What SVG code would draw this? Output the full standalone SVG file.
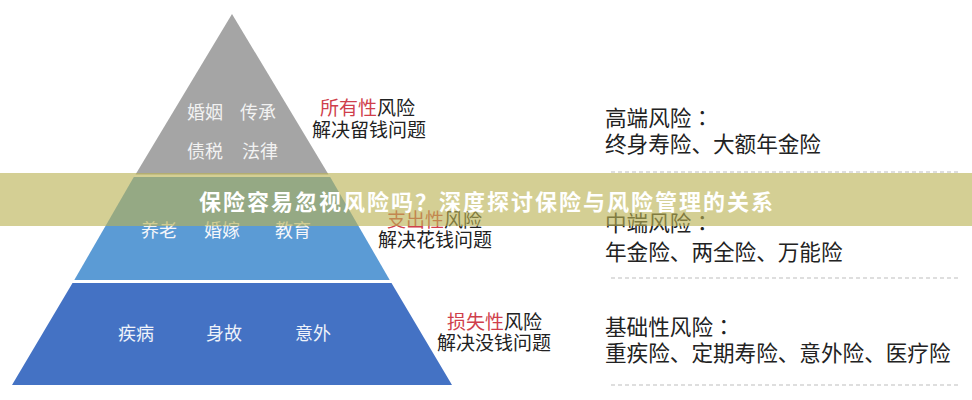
<svg xmlns="http://www.w3.org/2000/svg" width="972" height="400" viewBox="0 0 972 400">
<style>
text{font-family:"Noto Sans CJK SC","Noto Sans",sans-serif;}
.pt{font-size:18px;}
.lab{font-size:19px;fill:#222;}
.red{fill:#cf3f4c;}
.rc{font-size:21.6px;fill:#222;}
.colon{font-family:"Noto Sans CJK TC","Noto Sans",sans-serif;}
.sep{stroke:#bdbdbd;stroke-width:1.2;stroke-dasharray:4 3;fill:none;}
.title{font-size:22px;font-weight:bold;fill:#fff;letter-spacing:2px;}
</style>
<rect width="972" height="400" fill="#ffffff"/>
<g id="level-top">
<polygon points="232,14 328.5,174.5 135.5,174.5" fill="#a5a5a5"/>
<text class="pt" x="187" y="119" fill="#f2f2f2">婚姻</text>
<text class="pt" x="240" y="119" fill="#f2f2f2">传承</text>
<text class="pt" x="187" y="158" fill="#f2f2f2">债税</text>
<text class="pt" x="242" y="158" fill="#f2f2f2">法律</text>
</g>
<g id="level-middle">
<polygon points="133.8,177 330.2,177 389.7,280 74.3,280" fill="#5b9bd5"/>
<text class="pt" x="141" y="237" fill="#f4f6fa">养老</text>
<text class="pt" x="204" y="237" fill="#f4f6fa">婚嫁</text>
<text class="pt" x="275" y="237" fill="#f4f6fa">教育</text>
</g>
<g id="level-bottom">
<polygon points="72.5,283 391.5,283 452,385 12,385" fill="#4472c4"/>
<text class="pt" x="118" y="340" fill="#eef2fa">疾病</text>
<text class="pt" x="206" y="340" fill="#eef2fa">身故</text>
<text class="pt" x="295" y="340" fill="#eef2fa">意外</text>
</g>
<g id="label-top">
<text class="lab" x="320" y="115"><tspan class="red">所有性</tspan>风险</text>
<text class="lab" x="312" y="137">解决留钱问题</text>
</g>
<g id="label-middle">
<text class="lab" x="387" y="227"><tspan class="red">支出性</tspan>风险</text>
<text class="lab" x="378" y="247">解决花钱问题</text>
</g>
<g id="label-bottom">
<text class="lab" x="447" y="329"><tspan class="red">损失性</tspan>风险</text>
<text class="lab" x="437" y="350">解决没钱问题</text>
</g>
<g id="product-high">
<text class="rc" x="605" y="126">高端风险<tspan class="colon">：</tspan></text>
<text class="rc" x="605" y="152">终身寿险、大额年金险</text>
</g>
<g id="product-mid">
<text class="rc" x="605" y="231">中端风险<tspan class="colon">：</tspan></text>
<text class="rc" x="605" y="260">年金险、两全险、万能险</text>
</g>
<g id="product-base">
<text class="rc" x="605" y="335">基础性风险<tspan class="colon">：</tspan></text>
<text class="rc" x="605" y="361">重疾险、定期寿险、意外险、医疗险</text>
</g>
<g id="connectors">
<line class="sep" x1="611" y1="172" x2="961" y2="172"/>
<line class="sep" x1="611" y1="278" x2="961" y2="278"/>
<line class="sep" x1="611" y1="385" x2="961" y2="385"/>
</g>
<g id="banner">
<rect x="0" y="173" width="972" height="53" fill="#bab252" fill-opacity="0.62"/>
<text class="title" x="199" y="210">保险容易忽视风险吗？深度探讨保险与风险管理的关系</text>
</g>
</svg>
